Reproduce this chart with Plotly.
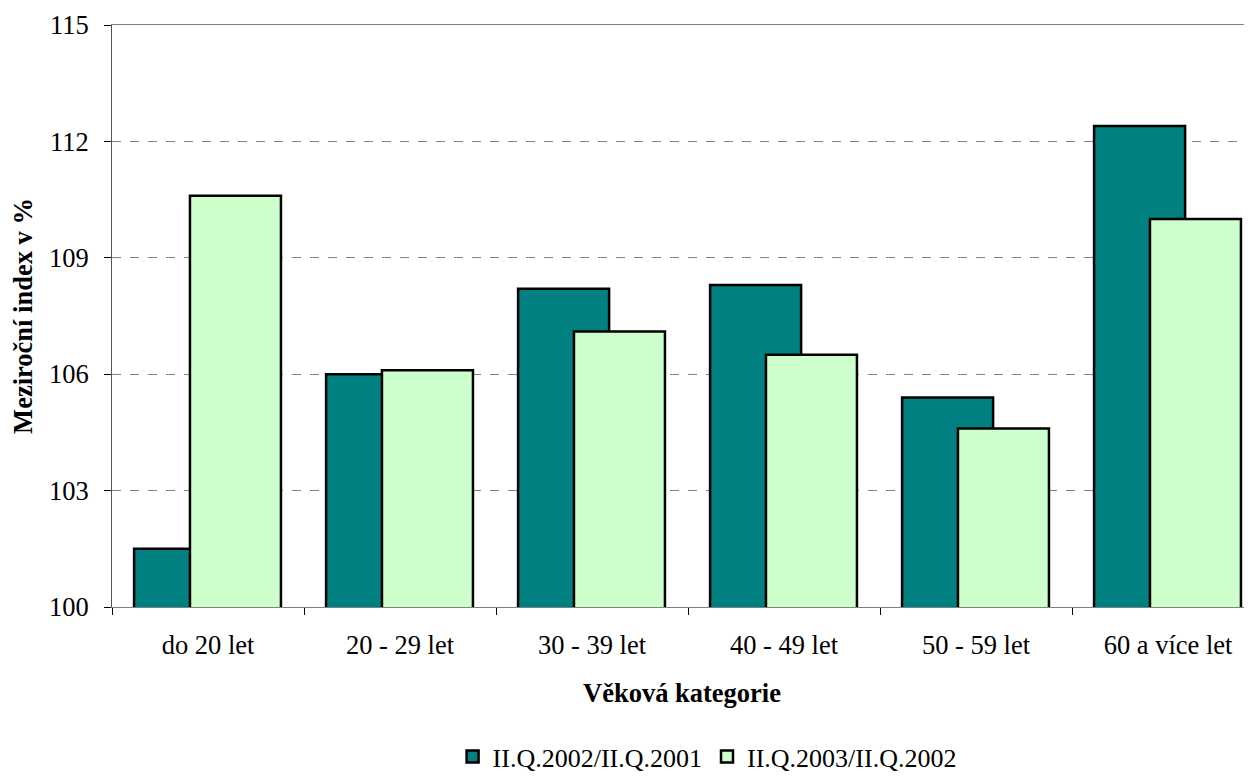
import plotly.graph_objects as go

categories = ["do 20 let", "20 - 29 let", "30 - 39 let", "40 - 49 let", "50 - 59 let", "60 a více let"]
series_2002 = [101.5, 106.0, 108.2, 108.3, 105.4, 112.4]
series_2003 = [110.6, 106.1, 107.1, 106.5, 104.6, 110.0]
name_2002 = "II.Q.2002/II.Q.2001"
name_2003 = "II.Q.2003/II.Q.2002"
y_ticks = [100, 103, 106, 109, 112, 115]

FONT = "Liberation Serif, Times New Roman, serif"
FS = 26.5

fig = go.Figure()
fig.add_trace(go.Bar(
    x=categories, y=series_2002, name=name_2002,
    marker=dict(color="#008080", line=dict(color="#000000", width=2.5)),
    width=0.474, offset=-0.385,
))
fig.add_trace(go.Bar(
    x=categories, y=series_2003, name=name_2003,
    marker=dict(color="#CCFFCC", line=dict(color="#000000", width=2.5)),
    width=0.474, offset=-0.094,
))

# page body adds an 8px margin; compensate in figure size and margins
fig.update_layout(
    width=1244, height=768,
    barmode="overlay",
    paper_bgcolor="white", plot_bgcolor="white",
    margin=dict(l=104, r=0, t=17, b=169, autoexpand=False),
    font=dict(family=FONT, size=FS, color="#000000"),
    showlegend=True,
    legend=dict(orientation="h", x=0.522, xanchor="center", y=-0.257, yanchor="middle",
                font=dict(family=FONT, size=26), itemwidth=30, tracegroupgap=0,
                bgcolor="rgba(0,0,0,0)"),
    xaxis=dict(
        range=[-0.5, 5.4375], automargin=False,
        showline=True, linecolor="#808080", linewidth=1, mirror=True,
        ticks="outside", ticklen=7, tickcolor="#000000", tickson="boundaries",
        ticklabelstandoff=14,
        showgrid=False,
        tickfont=dict(family=FONT, size=FS),
        title=dict(text="<b>Věková kategorie</b>", font=dict(family=FONT, size=FS), standoff=24),
    ),
    yaxis=dict(
        range=[100, 115], tickvals=y_ticks, automargin=False,
        showline=True, linecolor="#555555", linewidth=1,
        ticks="outside", ticklen=7, tickcolor="#000000",
        ticklabelstandoff=10,
        showgrid=True, gridcolor="#808080", griddash="dash", gridwidth=1,
        zeroline=False,
        tickfont=dict(family=FONT, size=FS),
        title=dict(text="<b>Meziroční index v %</b>", font=dict(family=FONT, size=FS), standoff=11),
    ),
)

fig.write_html("out.html")
